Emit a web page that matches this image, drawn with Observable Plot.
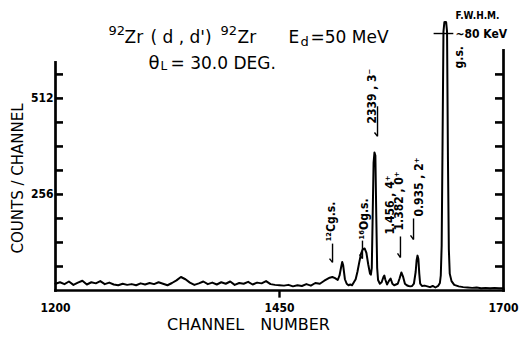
<!DOCTYPE html>
<html>
<head>
<meta charset="utf-8">
<script src="https://cdn.jsdelivr.net/npm/d3@7"></script>
<script src="https://cdn.jsdelivr.net/npm/@observablehq/plot@0.6"></script>
<style>
  html, body { margin: 0; padding: 0; background: #fff; }
  g[aria-label="ylabel"] text { letter-spacing: 3.2px; }
  g[aria-label="xlabel"] text { letter-spacing: 0.8px; }
  g[aria-label="title"] text { letter-spacing: 1.6px; }
</style>
</head>
<body>
<div id="chart"></div>
<script>
// ---- data ----
const channels = [
  1200,1205,1210,1215,1220,1225,1230,1235,1240,1245,1250,1255,1260,1265,1270,1275,1280,1285,1290,1295,
  1300,1305,1310,1315,1320,1325,1330,1335,1340,1345,1350,1355,1360,1365,1370,1375,1380,1385,1390,1395,
  1400,1405,1410,1415,1420,1425,1430,1435,1440,1445,1450,1455,1460,1465,1470,1475,1480,1485,1490,1495,
  1500,1503,1506,1509,1512,1515,1517,1519,1520,1521,1523,1525,1527,1529,1531,1533,1535,1537,1539,1541,
  1543,1545,1547,1549,1551,1552,1553,1554,1555,1556,1557,1558,1559,1560,1562,1564,1566,1567,1568,1570,
  1572,1574,1576,1578,1580,1582,1584,1586,1588,1590,1592,1594,1596,1598,1600,1602,1603,1604,1605,1606,
  1607,1609,1612,1615,1618,1621,1624,1627,1629,1630,1631,1632,1633,1634,1635,1636,1637,1638,1639,1640,
  1642,1645,1650,1655,1660,1665,1670,1675,1680,1685,1690,1695,1700
];
const counts = [
  18,22,17,24,15,21,26,16,22,19,25,17,21,16,14,18,15,17,14,19,
  16,20,17,22,18,14,20,27,36,30,21,15,19,24,17,21,16,22,18,24,
  15,20,18,23,16,21,19,25,17,15,14,13,15,11,14,12,17,13,20,18,
  26,30,34,36,33,28,40,65,76,68,30,18,14,16,14,22,30,50,75,98,
  110,112,100,70,45,42,60,200,340,368,360,200,60,28,18,22,36,40,30,16,
  25,32,18,14,16,18,32,48,36,18,14,12,11,12,18,50,80,93,84,45,
  18,12,13,11,9,12,8,12,20,40,120,400,690,715,716,715,690,350,110,45,
  25,15,11,9,8,7,8,6,7,6,7,6,6
];
const xTicks = [1200, 1450, 1700];
const xMarkedTicks = [1450];
const yTicks = [64, 128, 192, 256, 320, 384, 448, 512, 576];
const yTickLabels = [256, 512];
const peakLabelText = ["\u00B9\u00B2Cg.s.", "\u00B9\u2076Og.s.", "2339 , 3\u207B", "1.456 , 4\u207A", "1.382 , 0\u207A", "0.935 , 2\u207A", "g.s."];
const peakLabelChannel = [1508, 1545, 1553, 1573, 1584, 1606, 1650];

const spectrum = channels.map((c, i) => ({channel: c, count: counts[i]}));

// ---- annotation layout ----
const labelHeights = [131, 136, 445, 149, 160, 197, 592];
const peakLabels = peakLabelText.map((t, i) => ({text: t, channel: peakLabelChannel[i], h: labelHeights[i]}));
const leaders = [
  {x1: 1509.2, y1: 125, x2: 1509.2, y2: 75}, {x1: 1509.2, y1: 75, x2: 1505.8, y2: 85},
  {x1: 1542.6, y1: 133, x2: 1542.6, y2: 85}, {x1: 1542.6, y1: 85, x2: 1539.3, y2: 96},
  {x1: 1559.4, y1: 491, x2: 1559.4, y2: 411}, {x1: 1559.4, y1: 411, x2: 1556, y2: 421},
  {x1: 1585, y1: 144, x2: 1585, y2: 88}, {x1: 1585, y1: 88, x2: 1581.7, y2: 99},
  {x1: 1599.6, y1: 192, x2: 1599.6, y2: 136}, {x1: 1599.6, y1: 136, x2: 1596.2, y2: 147},
  {x1: 1622, y1: 685, x2: 1644, y2: 685}
];

const ML = 55;
const note = (s, x, y, o = {}) => Plot.text([s], {
  frameAnchor: "top-left", dx: x - ML, dy: y, text: d => d,
  textAnchor: "start", lineAnchor: "bottom", fontSize: 17, fill: "#000", ...o
});
const bold = {fontWeight: "bold", fontFamily: "'DejaVu Sans Condensed', 'DejaVu Sans', sans-serif"};

const plot = Plot.plot({
  width: 520, height: 337,
  marginLeft: ML, marginRight: 17, marginTop: 0, marginBottom: 47,
  x: {domain: [1200, 1700]},
  y: {domain: [0, 773]},
  style: {background: "#fff", color: "#000", fontFamily: "'DejaVu Sans', sans-serif", overflow: "visible"},
  marks: [
    // frame lines
    Plot.link([{x1: 1200, y1: 0, x2: 1200, y2: 608}, {x1: 1700, y1: 0, x2: 1700, y2: 640}, {x1: 1200, y1: 0, x2: 1700, y2: 0}],
      {x1: "x1", y1: "y1", x2: "x2", y2: "y2", strokeWidth: 2.7, strokeLinecap: "square", stroke: "#000"}),
    // inward ticks on the left and right frame lines
    Plot.tickY(yTicks, {y: d => d, insetRight: 440, stroke: "#000", strokeWidth: 2.6}),
    Plot.tickY(yTicks, {y: d => d, insetLeft: 440, stroke: "#000", strokeWidth: 2.6}),
    // outward tick under the 1450 mark
    Plot.link(xMarkedTicks, {x1: d => d, x2: d => d, y1: 0, y2: -19, stroke: "#000", strokeWidth: 2.4}),
    // tick labels
    Plot.axisY({anchor: "left", ticks: yTickLabels, tickSize: 0, tickPadding: 2,
      tickFormat: d => String(d), fontSize: 12, ...bold}),
    Plot.axisX({ticks: xTicks, tickSize: 0, tickPadding: 13, tickFormat: d => String(d), fontSize: 12, ...bold}),
    // spectrum
    Plot.line(spectrum, {x: "channel", y: "count", strokeWidth: 2, strokeLinejoin: "round", stroke: "#000"}),
    // annotations
    Plot.link(leaders, {x1: "x1", y1: "y1", x2: "x2", y2: "y2", strokeWidth: 1.4, stroke: "#000"}),
    Plot.text(peakLabels, {x: "channel", y: "h", text: "text", rotate: -90, textAnchor: "start",
      lineAnchor: "middle", fontSize: 12, fill: "#000", ...bold}),
    note("92", 108, 34, {fontSize: 13, ariaLabel: "title"}),
    note("Zr", 124, 42, {ariaLabel: "title"}),
    note("( d , d')", 150, 42, {ariaLabel: "title"}),
    note("92", 220, 34, {fontSize: 13, ariaLabel: "title"}),
    note("Zr", 237, 42, {ariaLabel: "title"}),
    note("E", 288, 42, {ariaLabel: "title"}),
    note("d", 300, 45, {fontSize: 13}),
    note("=50 MeV", 310, 42, {ariaLabel: "title"}),
    note("\u03B8", 148, 68, {fontSize: 18}),
    note("L", 160, 69, {fontSize: 12}),
    note("= 30.0 DEG.", 170, 68, {ariaLabel: "title"}),
    note("F.W.H.M.", 455, 18, {fontSize: 10, ...bold}),
    note("~80 KeV", 455, 37, {fontSize: 12, ...bold}),
    // axis titles
    Plot.text(["COUNTS / CHANNEL"], {frameAnchor: "top-left", dx: 18 - ML, dy: 178, text: d => d,
      rotate: -90, textAnchor: "middle", lineAnchor: "middle", fontSize: 15, fill: "#000", ariaLabel: "ylabel"}),
    Plot.text(["CHANNEL\u2003NUMBER"], {frameAnchor: "top-left", dx: 248 - ML, dy: 329, text: d => d,
      textAnchor: "middle", lineAnchor: "bottom", fontSize: 16, fill: "#000", ariaLabel: "xlabel"})
  ]
});
document.getElementById("chart").appendChild(plot);
</script>
</body>
</html>
